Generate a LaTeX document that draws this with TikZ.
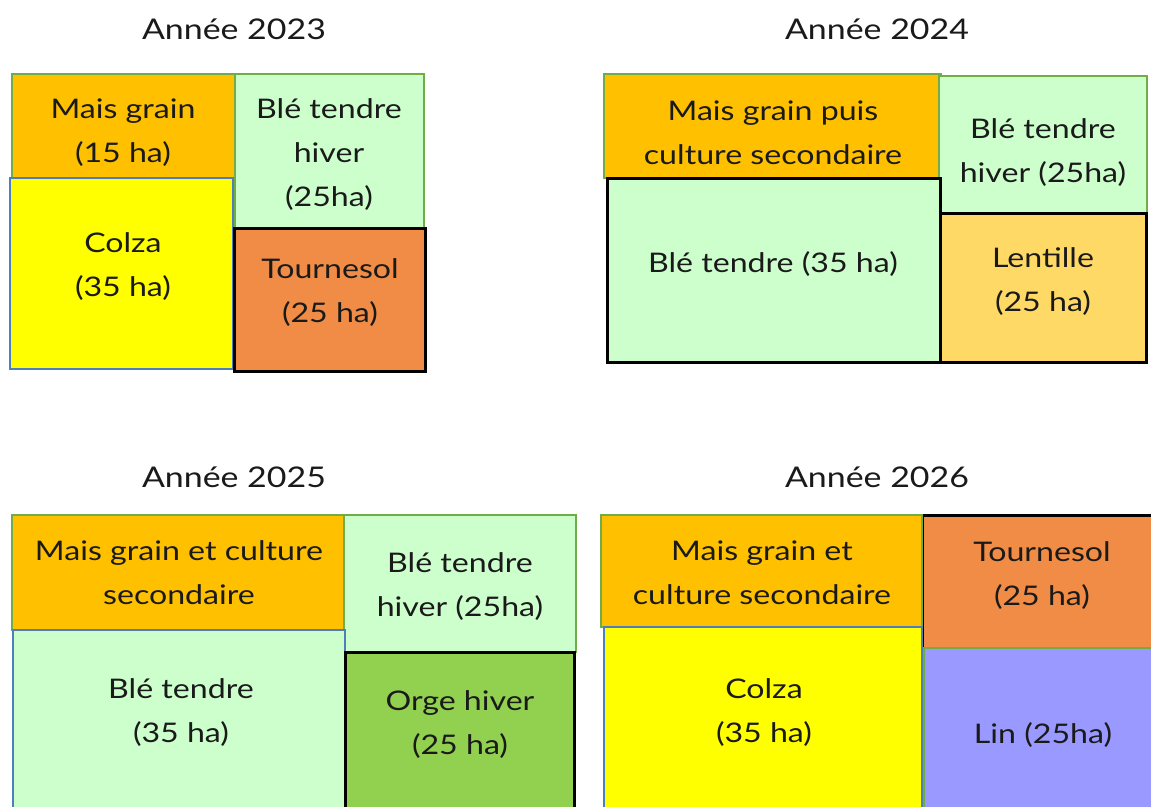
\documentclass[tikz,border=0pt]{standalone}
\usepackage{fontspec}
\setmainfont{Lato}[FakeStretch=1.19]
\definecolor{cOrange}{HTML}{FFC000}
\definecolor{cLight}{HTML}{CCFFCC}
\definecolor{cYellow}{HTML}{FFFF00}
\definecolor{cTourn}{HTML}{F08C46}
\definecolor{cLent}{HTML}{FFD966}
\definecolor{cOrge}{HTML}{92D050}
\definecolor{cLin}{HTML}{9999FF}
\definecolor{bGreen}{HTML}{70AD47}
\definecolor{bBlue}{HTML}{4F7FBA}
\definecolor{cText}{HTML}{1A1A1A}
\begin{document}
\begin{tikzpicture}[x=1pt,y=-1pt,
  plot/.style={rectangle, anchor=north west, inner sep=0pt, outer sep=0pt},
  gbox/.style={plot, draw=bGreen, line width=2pt},
  bbox/.style={plot, draw=bBlue, line width=2pt},
  kbox/.style={plot, draw=black, line width=3pt},
  txt/.style={align=center, text=cText, font=\fontsize{27}{44}\selectfont, inner sep=0pt},
  ttl/.style={text=cText, font=\fontsize{28.5}{32}\selectfont, inner sep=0pt}]
\useasboundingbox (0,0) rectangle (1151,806);
\clip (0,0) rectangle (1151,806);
% titles
\node[ttl] (t1) at (234,29) {Année 2023};
\node[ttl] (t2) at (877,29) {Année 2024};
\node[ttl] (t3) at (234,477) {Année 2025};
\node[ttl] (t4) at (877,477) {Année 2026};
% 2023
\node[gbox, fill=cOrange, minimum width=223pt, minimum height=104pt] (m23) at (12,74) {};
\node[gbox, fill=cLight, minimum width=189pt, minimum height=154pt] (b23) at (235,74) {};
\node[bbox, fill=cYellow, minimum width=223pt, minimum height=191pt] (c23) at (10,178) {};
\node[kbox, fill=cTourn, minimum width=191pt, minimum height=143pt] (s23) at (234,228) {};
\node[txt] (m23t) at (123,133) {Mais grain\\(15 ha)};
\node[txt] (b23t) at (329,155) {Blé tendre\\hiver\\(25ha)};
\node[txt] (c23t) at (123,267) {Colza\\(35 ha)};
\node[txt] (s23t) at (330,293) {Tournesol\\(25 ha)};
% 2024
\node[gbox, fill=cOrange, minimum width=337pt, minimum height=104pt] (m24) at (604,74) {};
\node[gbox, fill=cLight, minimum width=208pt, minimum height=139pt] (b24) at (939,76) {};
\node[kbox, fill=cLight, minimum width=333pt, minimum height=184pt] (bt24) at (607,178) {};
\node[kbox, fill=cLent, minimum width=206pt, minimum height=149pt] (l24) at (940,213) {};
\node[txt] (m24t) at (773,133) {Mais grain puis\\culture secondaire};
\node[txt] (b24t) at (1043,153) {Blé tendre\\hiver (25ha)};
\node[txt] (bt24t) at (773,264) {Blé tendre (35 ha)};
\node[txt] (l24t) at (1043,282) {Lentille\\(25 ha)};
% 2025
\node[gbox, fill=cOrange, minimum width=332pt, minimum height=115pt] (m25) at (12,515) {};
\node[gbox, fill=cLight, minimum width=232pt, minimum height=137pt] (b25) at (344,515) {};
\node[bbox, fill=cLight, minimum width=332pt, minimum height=200pt] (bt25) at (13,630) {};
\node[kbox, fill=cOrge, minimum width=229pt, minimum height=180pt] (o25) at (345,652) {};
\node[txt] (m25t) at (179,573) {Mais grain et culture\\secondaire};
\node[txt] (b25t) at (460,587) {Blé tendre\\hiver (25ha)};
\node[txt] (bt25t) at (181,713) {Blé tendre\\(35 ha)};
\node[txt] (o25t) at (460,725) {Orge hiver\\(25 ha)};
% 2026
\node[kbox, fill=cTourn, minimum width=240pt, minimum height=133pt] (s26) at (922,515) {};
\node[gbox, fill=cOrange, minimum width=321pt, minimum height=112pt] (m26) at (601,515) {};
\node[bbox, fill=cYellow, minimum width=318pt, minimum height=200pt] (c26) at (604,627) {};
\node[gbox, fill=cLin, minimum width=240pt, minimum height=180pt] (l26) at (924,648) {};
\node[txt] (m26t) at (762,573) {Mais grain et\\culture secondaire};
\node[txt] (s26t) at (1042,576) {Tournesol\\(25 ha)};
\node[txt] (c26t) at (764,713) {Colza\\(35 ha)};
\node[txt] (l26t) at (1043,735) {Lin (25ha)};
\end{tikzpicture}
\end{document}
